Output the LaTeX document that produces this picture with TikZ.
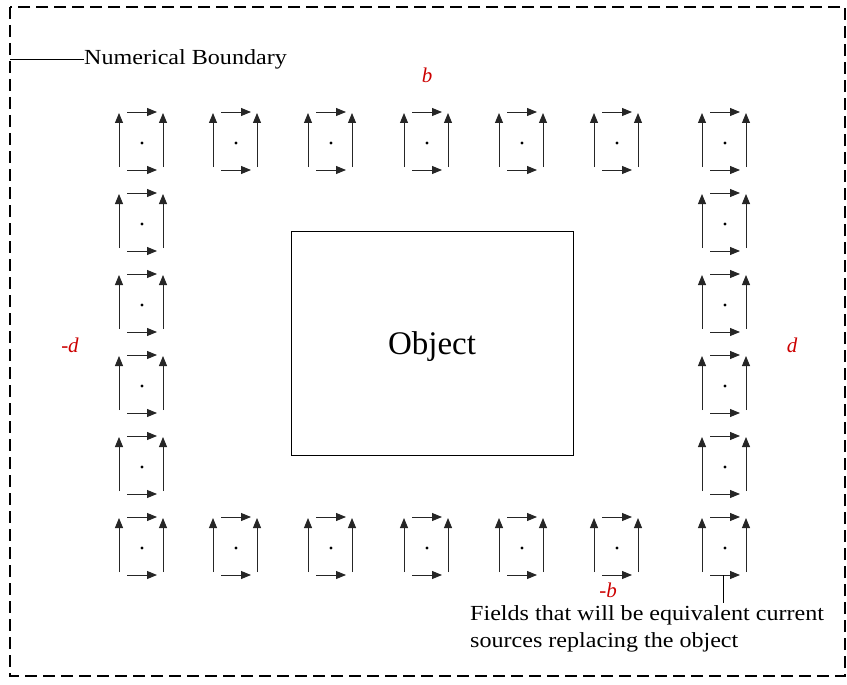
\documentclass[tikz,border=0pt]{standalone}
\usepackage{fontspec}
\setmainfont{Liberation Serif}
\newfontfamily\widefont{Liberation Serif}[FakeStretch=1.12]
\usetikzlibrary{arrows.meta}

\begin{document}
\begin{tikzpicture}[x=1pt, y=-1pt,
    every node/.style={font=\widefont\fontsize{21.5}{27}\selectfont},
    fieldarrow/.style={-{Triangle[length=10pt,width=8pt]}, line width=0.9pt, black!85},
    boundary/.style={dash pattern=on 12pt off 6pt, line width=1.4pt},
    lbl/.style={red!80!black, font=\fontsize{21}{24}\selectfont\itshape},
    fieldcell/.pic={
      \fill (0,0) circle (1.6);
      \draw[fieldarrow] (-23,24) -- (-23,-30);
      \draw[fieldarrow] (21,24) -- (21,-30);
      \draw[fieldarrow] (-15,-31) -- (15,-31);
      \draw[fieldarrow] (-15,27) -- (15,27);
    },
    ]

    \useasboundingbox (0,0) rectangle (847,685);
    \draw[boundary] (10,7) rectangle (845,676);

    % ring of equivalent sources
    \foreach \x in {142,236,331,427,522,617,725}{
    \pic at (\x,143) {fieldcell};
    \pic at (\x,548) {fieldcell};
    }
    \foreach \y in {224,305,386,467}{
    \pic at (142,\y) {fieldcell};
    \pic at (725,\y) {fieldcell};
    }

    \node[draw, line width=1pt, minimum width=282pt, minimum height=224pt,
        text depth=0pt, font=\fontsize{33}{36}\selectfont] (object) at (432,343) {Object};

    \node[lbl] (labb) at (427,75) {b};
    \node[lbl] (labmb) at (608,590) {-b};
    \node[lbl] (labmd) at (70,345) {-d};
    \node[lbl] (labd) at (792,345) {d};

    \coordinate (bndpt) at (10,59);
    \node[anchor=base west, inner sep=0pt] (numbound) at (84,65) {Numerical Boundary};
    \draw (bndpt) -- (bndpt -| numbound.west);

    \coordinate (fieldfoot) at (723,575);
    \node[anchor=north west, align=left, inner sep=0pt] (fields) at (470,605)
        {Fields that will be equivalent current\\sources replacing the object};
    \draw (fieldfoot) -- ([yshift=2pt]fieldfoot |- fields.north);

\end{tikzpicture}
\end{document}
